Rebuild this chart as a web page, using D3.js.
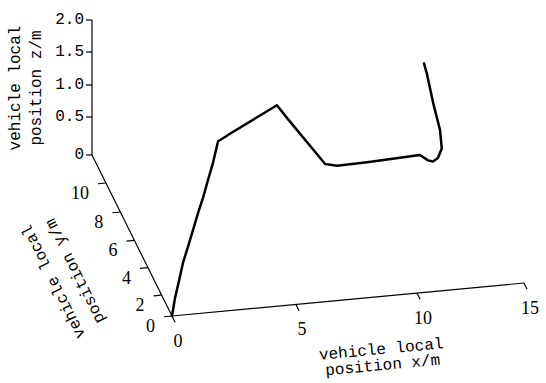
<!DOCTYPE html>
<html>
<head>
<meta charset="utf-8">
<script src="https://cdn.jsdelivr.net/npm/d3@7"></script>
<style>
  body { margin: 0; background: #fff; }
  .tick-lbl { font-family: "Liberation Serif", "Times New Roman", serif; font-size: 18px; fill: #000; }
  .ztick-lbl { font-family: "Liberation Mono", monospace; font-size: 16px; fill: #000; }
  .title { font-family: "Liberation Mono", monospace; font-size: 16px; fill: #000; }
</style>
</head>
<body>
<div id="container"></div>
<script>
// trajectory (x, y, z in metres)
var xVals = [0, 0.30, 0.64, 1.01, 1.45, 1.88, 2.32, 2.76, 3.20, 3.64, 4.09, 4.29, 4.57, 6.50, 6.92, 8.49, 8.98, 10.25, 12.72, 13.10, 13.33, 13.56, 13.74, 13.66, 13.34, 13.04, 12.91];
var yVals = [0, 0.85, 1.7, 2.55, 3.4, 4.25, 5.1, 5.95, 6.8, 7.65, 8.5, 8.5, 8.5, 8.5, 8.5, 8.5, 8.5, 8.5, 8.5, 8.5, 8.5, 8.5, 8.5, 8.5, 8.5, 8.5, 8.5];
var zVals = [0, 0.11, 0.21, 0.29, 0.34, 0.39, 0.45, 0.49, 0.56, 0.62, 0.75, 0.79, 0.85, 1.22, 1.01, 0.28, 0.24, 0.25, 0.28, 0.20, 0.18, 0.22, 0.34, 0.60, 1.03, 1.49, 1.65];

var xTicks = [0, 5, 10, 15];
var yTicks = [0, 2, 4, 6, 8, 10];
var zTicks = [0, 0.5, 1, 1.5, 2];
var zTickLabels = ["0", "0.5", "1.0", "1.5", "2.0"];

var width = 546, height = 383;

// screen frame of the box: origin corner, x and y axis vectors
var origin = [172, 316],
    xVec = [352, -33],
    yVec = [-80, -161];

// scales give fraction along each axis (z gives pixels upward)
var xScale = d3.scaleLinear().domain([0, 5, 10, 15]).range([0, 0.352, 0.696, 1]);
var yScale = d3.scaleLinear().domain([0, 2, 4, 6, 8, 10, 12]).range([0, 0.13, 0.30, 0.47, 0.646, 0.826, 1]);
var zScale = d3.scaleLinear().domain([0, 0.5, 1, 1.5, 2]).range([0, 38, 70, 103, 135]);
var yMax = 12;

function project(x, y, z) {
  var tx = xScale(x), ty = yScale(y);
  return [origin[0] + tx * xVec[0] + ty * yVec[0],
          origin[1] + tx * xVec[1] + ty * yVec[1] - zScale(z)];
}

var svg = d3.select("#container").append("svg")
    .attr("width", width)
    .attr("height", height);

var axes = svg.append("g")
    .attr("stroke", "#000")
    .attr("stroke-width", 1.2)
    .attr("fill", "none");

// x axis
var x0 = project(0, 0, 0), x1 = project(15, 0, 0);
axes.append("line").attr("x1", x0[0]).attr("y1", x0[1]).attr("x2", x1[0]).attr("y2", x1[1]);
// y axis
var y1 = project(0, yMax, 0);
axes.append("line").attr("x1", x0[0]).attr("y1", x0[1]).attr("x2", y1[0]).attr("y2", y1[1]);
// z axis
var z1 = project(0, yMax, 2);
axes.append("line").attr("x1", y1[0]).attr("y1", y1[1]).attr("x2", z1[0]).attr("y2", z1[1]);

// x ticks point along -y
var yLen = Math.hypot(yVec[0], yVec[1]);
var xtDir = [-yVec[0] / yLen, -yVec[1] / yLen];
xTicks.forEach(function(d) {
  var p = project(d, 0, 0);
  axes.append("line")
    .attr("x1", p[0]).attr("y1", p[1])
    .attr("x2", p[0] + xtDir[0] * 7).attr("y2", p[1] + xtDir[1] * 7);
  svg.append("text").attr("class", "tick-lbl")
    .attr("x", p[0] + 6).attr("y", p[1] + 25)
    .attr("text-anchor", "middle")
    .attr("dominant-baseline", "central")
    .text(d);
});

// y ticks point along -x
var xLen = Math.hypot(xVec[0], xVec[1]);
var ytDir = [-xVec[0] / xLen, -xVec[1] / xLen];
yTicks.forEach(function(d) {
  var p = project(0, d, 0);
  axes.append("line")
    .attr("x1", p[0]).attr("y1", p[1])
    .attr("x2", p[0] + ytDir[0] * 8).attr("y2", p[1] + ytDir[1] * 8);
  svg.append("text").attr("class", "tick-lbl")
    .attr("x", p[0] - 17).attr("y", p[1] + 10)
    .attr("text-anchor", "end")
    .attr("dominant-baseline", "central")
    .text(d);
});

// z ticks
zTicks.forEach(function(d, i) {
  var p = project(0, yMax, d);
  axes.append("line")
    .attr("x1", p[0]).attr("y1", p[1])
    .attr("x2", p[0] - 6).attr("y2", p[1]);
  svg.append("text").attr("class", "ztick-lbl")
    .attr("x", p[0] - 8).attr("y", p[1])
    .attr("text-anchor", "end")
    .attr("dominant-baseline", "central")
    .text(zTickLabels[i]);
});

// axis titles
function title(cx, cy, angle, lines, gap) {
  var g = svg.append("g")
    .attr("transform", "translate(" + cx + "," + cy + ") rotate(" + angle + ")");
  lines.forEach(function(t, i) {
    g.append("text").attr("class", "title")
      .attr("x", 0).attr("y", (i - 0.5) * gap)
      .attr("text-anchor", "middle")
      .attr("dominant-baseline", "central")
      .text(t);
  });
}
var xAng = Math.atan2(xVec[1], xVec[0]) * 180 / Math.PI;
var yAng = Math.atan2(yVec[1], yVec[0]) * 180 / Math.PI;
title(26, 88, -90, ["vehicle local", "position z/m"], 21);
title(65, 276, yAng, ["vehicle local", "position y/m"], 24);
title(382, 358, xAng, ["vehicle local", "position x/m"], 16);

// trajectory
var pts = xVals.map(function(d, i) { return project(d, yVals[i], zVals[i]); });
var line = d3.line().curve(d3.curveLinear);
svg.append("path")
  .attr("d", line(pts))
  .attr("fill", "none")
  .attr("stroke", "#000")
  .attr("stroke-width", 2.5)
  .attr("stroke-linejoin", "round")
  .attr("stroke-linecap", "round");
</script>
</body>
</html>
